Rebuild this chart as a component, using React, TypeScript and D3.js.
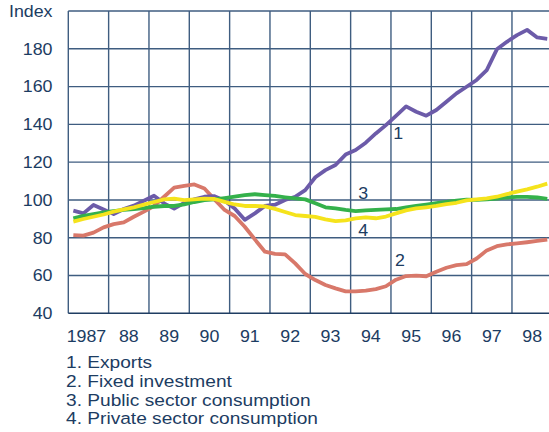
import React from "react";
import * as d3 from "d3";

const yearLabels = ["1987", "88", "89", "90", "91", "92", "93", "94", "95", "96", "97", "98"];
const yTicks = [40, 60, 80, 100, 120, 140, 160, 180];
const gridValues = [60, 80, 100, 120, 140, 160, 180, 200];

// Quarterly index values, 1987Q1 .. 1998Q4
const exportsIdx = [
  94.3, 92.9, 97.3, 95.0, 92.5, 95.2, 97.0, 99.6, 102.2, 98.2, 95.4, 98.5,
  100.3, 101.7, 102.0, 99.6, 95.5, 89.5, 92.9, 96.8, 97.5, 100.0, 101.7, 105.2,
  112.0, 115.8, 118.5, 124.0, 126.4, 130.3, 135.2, 139.6, 144.5, 149.5, 146.7, 144.6,
  147.6, 152.0, 156.4, 159.9, 163.5, 168.7, 179.7, 183.7, 187.2, 190.0, 186.0, 185.3,
];
const fixedInvestment = [
  81.4, 81.1, 82.7, 85.5, 87.2, 88.1, 91.1, 93.8, 96.8, 101.7, 106.5, 107.5,
  108.2, 106.1, 100.3, 94.7, 91.5, 85.8, 79.1, 72.6, 71.4, 71.2, 66.4, 60.8,
  57.6, 55.0, 53.2, 51.6, 51.6, 52.0, 52.8, 54.3, 57.8, 59.7, 59.9, 59.6,
  62.0, 64.1, 65.5, 66.0, 69.0, 73.3, 75.5, 76.5, 77.0, 77.6, 78.3, 79.0,
];
const publicConsumption = [
  90.2, 91.6, 92.5, 93.4, 94.1, 94.7, 95.2, 95.7, 96.4, 96.8, 96.8, 97.7,
  98.9, 99.9, 100.3, 101.0, 101.8, 102.6, 103.0, 102.6, 102.1, 101.4, 100.8, 100.3,
  98.2, 96.1, 95.5, 94.7, 94.1, 94.5, 94.7, 95.0, 95.2, 96.0, 96.8, 97.5,
  98.3, 99.0, 99.6, 100.2, 100.0, 100.3, 100.7, 101.3, 101.6, 101.6, 101.3, 100.5,
];
const privateConsumption = [
  88.5, 89.9, 91.1, 92.3, 93.8, 95.0, 96.1, 97.5, 98.9, 100.3, 100.7, 99.9,
  100.3, 100.7, 100.5, 99.0, 97.6, 96.8, 96.8, 96.6, 95.3, 93.6, 92.0, 91.5,
  91.0, 89.7, 88.8, 89.2, 90.2, 90.8, 90.3, 91.2, 92.9, 94.5, 95.5, 96.1,
  96.8, 97.8, 98.5, 99.8, 100.3, 100.8, 101.7, 103.1, 104.4, 105.6, 107.0, 108.6,
];

const legendItems = [
  "1. Exports",
  "2. Fixed investment",
  "3. Public sector consumption",
  "4. Private sector consumption",
];

// in-plot series number labels: [text, year, value]
const seriesLabels: [string, number, number][] = [
  ["1", 1995.18, 135.2],
  ["2", 1995.22, 68.2],
  ["3", 1994.31, 103.8],
  ["4", 1994.31, 84.1],
];

const series = [
  { values: fixedInvestment, color: "#d8786a" },
  { values: exportsIdx, color: "#6c5ba9" },
  { values: publicConsumption, color: "#34b14b" },
  { values: privateConsumption, color: "#f5e31c" },
];

const W = 549;
const H = 432;
const TEXT = "#1c3c62";
const FONT = "'Liberation Sans', Arial, Helvetica, sans-serif";
const FS = 16.5;

export default function App() {
  const x = d3.scaleLinear().domain([1987, 1999]).range([68.3, 552.3]);
  const y = d3.scaleLinear().domain([40, 200]).range([313.3, 11]);
  const t = (i: number) => 1987 + (i + 0.5) / 4;
  const line = d3
    .line<number>()
    .x((_, i) => x(t(i)))
    .y((d) => y(d));

  const gridYears = d3.range(1987, 1999);

  const stretchText = (
    key: string | number,
    px: number,
    py: number,
    s: string,
    anchor: "start" | "middle" | "end",
    sx = 1.16
  ) => (
    <text
      key={key}
      transform={`translate(${px},${py}) scale(${sx},1)`}
      textAnchor={anchor}
      fontFamily={FONT}
      fontSize={FS}
      fill={TEXT}
    >
      {s}
    </text>
  );

  return (
    <svg
      width={W}
      height={H}
      style={{ position: "absolute", left: 0, top: 0, background: "#fff" }}
    >
      {/* grid */}
      <g stroke="#3f5d80" strokeWidth={1.4}>
        {gridYears.map((yr) => (
          <line key={"v" + yr} x1={x(yr)} x2={x(yr)} y1={y(200)} y2={y(40)} />
        ))}
        {gridValues.map((v) => (
          <line key={"h" + v} x1={x(1987)} x2={W} y1={y(v)} y2={y(v)} />
        ))}
        <line x1={x(1987)} x2={W} y1={y(40)} y2={y(40)} stroke="#1f3d62" strokeWidth={1.6} />
      </g>

      {/* series */}
      <g fill="none" strokeWidth={3.8} strokeLinejoin="round" strokeLinecap="butt">
        {series.map((s, k) => (
          <path key={k} d={line(s.values) || ""} stroke={s.color} />
        ))}
      </g>

      {/* series number labels */}
      {seriesLabels.map(([s, yr, v], k) =>
        stretchText("sl" + k, x(yr), y(v) + 5.8, s, "middle", 1.08)
      )}

      {/* y axis labels */}
      {stretchText("idx", 52.5, 17, "Index", "end", 1.08)}
      {yTicks.map((v) => stretchText("yt" + v, 52.5, y(v) + 5.8, String(v), "end", 1.08))}

      {/* x axis labels */}
      {yearLabels.map((lab, k) =>
        stretchText("xt" + k, x(1987 + k + 0.5) - (k === 0 ? 2 : 0), 342, lab, "middle", 1.08)
      )}

      {/* legend */}
      {legendItems.map((s, k) => stretchText("lg" + k, 66, 368.3 + k * 18.7, s, "start", 1.16))}
    </svg>
  );
}
